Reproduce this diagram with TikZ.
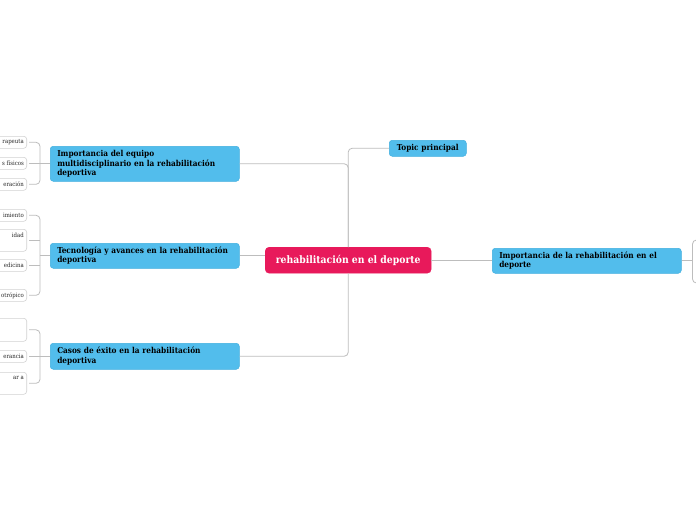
\documentclass[tikz,border=0pt]{standalone}
\usepackage{fontspec}
\setmainfont{DejaVu Serif Condensed}
\usetikzlibrary{calc}
\definecolor{mmblue}{HTML}{52BDEC}
\definecolor{mmbluedark}{HTML}{3FAEDF}
\definecolor{mmpink}{HTML}{E8195B}
\definecolor{mmline}{HTML}{BDBDBD}
\definecolor{mmleaf}{HTML}{D2D2D2}
\tikzset{
  topicbox/.style={fill=mmblue, draw=mmbluedark, line width=0.5pt, rounded corners=3pt, anchor=north west,
    inner ysep=0pt, inner xsep=7pt, font=\fontsize{8.2}{9.4}\selectfont\bfseries, text=black, align=left},
  centralbox/.style={fill=mmpink, draw=mmpink, rounded corners=4pt, anchor=north west, inner sep=0pt,
    font=\fontsize{10.3}{12}\selectfont\bfseries, text=white, align=center},
  leafbox/.style={draw=mmleaf, fill=white, rounded corners=3pt, anchor=north east, minimum width=70pt,
    inner sep=0pt, line width=0.6pt},
  leaftext/.style={font=\fontsize{6}{7}\selectfont, text=black!85, inner sep=0pt},
  conn/.style={draw=mmline, line width=0.8pt},
}
\begin{document}
\begin{tikzpicture}[x=1pt,y=-1pt]
\useasboundingbox (0,0) rectangle (696,520);
\clip (0,0) rectangle (696,520);
\fill[white] (0,0) rectangle (696,520);

% main nodes
\node[centralbox, minimum width=166pt, minimum height=26pt] (c) at (265,247) {rehabilitación en el deporte};
\node[topicbox, text width=63pt, minimum height=16pt, align=center, inner xsep=7pt] (tp) at (389,140) {Topic principal};
\node[topicbox, text width=175pt, minimum height=25pt] (r) at (492,248) {Importancia de la rehabilitación en el\\deporte};
\node[topicbox, text width=175pt, minimum height=35pt] (l1) at (50,146) {Importancia del equipo\\multidisciplinario en la rehabilitación\\deportiva};
\node[topicbox, text width=175pt, minimum height=25pt] (l2) at (50,243) {Tecnología y avances en la rehabilitación\\deportiva};
\node[topicbox, text width=175pt, minimum height=26pt] (l3) at (50,343) {Casos de éxito en la rehabilitación\\deportiva};

% central connectors
\draw[conn, rounded corners=4pt] (c.north) |- (l1.east);
\draw[conn, rounded corners=4pt] (c.north) |- (tp.west);
\draw[conn, rounded corners=4pt] (c.south) |- (l3.east);
\draw[conn] (l2.east) -- (l2.east -| c.west);
\draw[conn] (c.east) -- (c.east -| r.west);

% right bracket
\draw[conn] (r.east) -- ++(11,0) coordinate (k4);
\coordinate (k4t) at (702,240);
\coordinate (k4b) at (702,283);
\draw[conn, rounded corners=4pt] (k4t) -| (k4) |- (k4b);

% group 1 leaves
\node[leafbox, minimum height=12pt] (a1) at (27,136) {};
\node[leafbox, minimum height=12pt] (a2) at (27,157) {};
\node[leafbox, minimum height=12pt] (a3) at (27,178) {};
\node[leaftext, anchor=east] (a1t) at ($(a1.east)+(-3,0)$) {rapeuta};
\node[leaftext, anchor=east] (a2t) at ($(a2.east)+(-3,0)$) {s físicos};
\node[leaftext, anchor=east] (a3t) at ($(a3.east)+(-3,0)$) {eración};
\draw[conn] (l1.west) -- ++(-10,0) coordinate (k1);
\draw[conn, rounded corners=4pt, shorten <=2pt] (a1.east) -| (k1) |- ($(a3.east)+(2,0)$);
\draw[conn, shorten <=2pt] (a2.east) -- (a2.east -| k1);

% group 2 leaves
\node[leafbox, minimum height=12pt] (b1) at (27,209) {};
\node[leafbox, minimum height=22pt] (b2) at (27,229) {};
\node[leafbox, minimum height=12pt] (b3) at (27,259) {};
\node[leafbox, minimum height=12pt] (b4) at (27,289) {};
\node[leaftext, anchor=east] (b1t) at ($(b1.east)+(-3,0)$) {imiento};
\node[leaftext, anchor=north east] (b2t) at ($(b2.north east)+(-3,4)$) {idad};
\node[leaftext, anchor=east] (b3t) at ($(b3.east)+(-3,0)$) {edicina};
\node[leaftext, anchor=east] (b4t) at ($(b4.east)+(-3,0)$) {otrópico};
\draw[conn] (l2.west) -- ++(-10,0) coordinate (k2);
\draw[conn, rounded corners=4pt, shorten <=2pt] (b1.east) -| (k2) |- ($(b4.east)+(2,0)$);
\draw[conn, shorten <=2pt] (b2.east) -- (b2.east -| k2);
\draw[conn, shorten <=2pt] (b3.east) -- (b3.east -| k2);

% group 3 leaves
\node[leafbox, minimum height=23pt] (d1) at (27,318) {};
\node[leafbox, minimum height=12pt] (d2) at (27,350) {};
\node[leafbox, minimum height=22pt] (d3) at (27,372) {};
\node[leaftext, anchor=east] (d2t) at ($(d2.east)+(-3,0)$) {erancia};
\node[leaftext, anchor=north east] (d3t) at ($(d3.north east)+(-3,4)$) {ar a};
\draw[conn] (l3.west) -- ++(-10,0) coordinate (k3);
\draw[conn, rounded corners=4pt, shorten <=2pt] (d1.east) -| (k3) |- ($(d3.east)+(2,0)$);
\draw[conn, shorten <=2pt] (d2.east) -- (d2.east -| k3);
\end{tikzpicture}
\end{document}
